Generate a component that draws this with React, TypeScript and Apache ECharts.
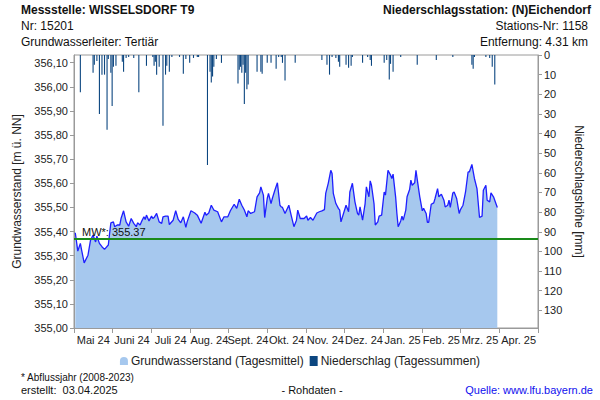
import React, { useEffect, useRef } from "react";
import * as echarts from "echarts";

const monthLabels = ["Mai 24", "Juni 24", "Juli 24", "Aug. 24", "Sept. 24", "Okt. 24", "Nov. 24", "Dez. 24", "Jan. 25", "Feb. 25", "Mrz. 25", "Apr. 25"];

// day index from 1 May 2024
const gwDays = [1, 3, 5, 6, 8, 11, 13, 15, 17, 18, 20, 22, 24, 27, 28, 29, 31, 32, 34, 36, 37, 39, 41, 43, 45, 47, 49, 50, 52, 53, 55, 56, 57, 59, 61, 62, 63, 65, 67, 69, 70, 72, 74, 75, 78, 80, 82, 84, 86, 88, 89, 92, 95, 97, 100, 103, 104, 106, 108, 110, 113, 116, 118, 121, 123, 126, 128, 130, 132, 134, 136, 137, 139, 142, 144, 146, 147, 149, 150, 152, 153, 155, 156, 158, 160, 162, 163, 164, 166, 169, 171, 173, 175, 176, 178, 181, 183, 184, 186, 188, 191, 193, 195, 197, 198, 200, 202, 203, 204, 206, 208, 209, 210, 212, 214, 216, 217, 219, 221, 223, 224, 225, 227, 229, 230, 232, 233, 234, 236, 237, 239, 240, 242, 244, 245, 247, 249, 250, 251, 253, 254, 255, 257, 258, 259, 261, 262, 264, 265, 266, 268, 269, 270, 272, 274, 275, 277, 278, 279, 281, 283, 284, 286, 287, 289, 291, 292, 294, 295, 296, 298, 299, 301, 303, 304, 306, 308, 310, 311, 313, 315, 317, 319, 321, 322, 324, 325, 327, 328, 330, 333];
const gwValues = [355.395, 355.319, 355.351, 355.323, 355.27, 355.302, 355.364, 355.385, 355.357, 355.381, 355.351, 355.337, 355.326, 355.344, 355.392, 355.436, 355.44, 355.42, 355.427, 355.427, 355.454, 355.486, 355.44, 355.422, 355.454, 355.434, 355.42, 355.436, 355.427, 355.44, 355.461, 355.45, 355.468, 355.444, 355.464, 355.454, 355.458, 355.475, 355.44, 355.434, 355.461, 355.464, 355.464, 355.429, 355.447, 355.486, 355.45, 355.436, 355.461, 355.417, 355.44, 355.486, 355.477, 355.468, 355.434, 355.48, 355.468, 355.477, 355.509, 355.489, 355.482, 355.44, 355.461, 355.461, 355.486, 355.513, 355.496, 355.534, 355.509, 355.489, 355.461, 355.486, 355.475, 355.482, 355.544, 355.56, 355.585, 355.551, 355.458, 355.537, 355.558, 355.516, 355.537, 355.571, 355.602, 355.509, 355.502, 355.5, 355.475, 355.509, 355.464, 355.42, 355.447, 355.489, 355.454, 355.454, 355.465, 355.447, 355.458, 355.447, 355.477, 355.482, 355.486, 355.491, 355.558, 355.6, 355.654, 355.641, 355.558, 355.516, 355.496, 355.489, 355.44, 355.475, 355.509, 355.482, 355.564, 355.6, 355.523, 355.475, 355.468, 355.502, 355.447, 355.516, 355.585, 355.544, 355.61, 355.592, 355.516, 355.427, 355.44, 355.464, 355.468, 355.564, 355.551, 355.654, 355.634, 355.62, 355.638, 355.544, 355.475, 355.42, 355.444, 355.464, 355.447, 355.489, 355.544, 355.574, 355.613, 355.592, 355.602, 355.654, 355.616, 355.544, 355.486, 355.496, 355.475, 355.438, 355.438, 355.513, 355.519, 355.537, 355.578, 355.544, 355.555, 355.53, 355.502, 355.509, 355.53, 355.5, 355.56, 355.564, 355.537, 355.475, 355.491, 355.509, 355.564, 355.647, 355.647, 355.678, 355.62, 355.578, 355.458, 355.464, 355.571, 355.592, 355.53, 355.523, 355.56, 355.544, 355.5];

const rainDays = [5, 15, 16, 18, 20, 22, 24, 26, 27, 29, 30, 31, 33, 38, 39, 41, 43, 47, 51, 57, 62, 63, 64, 65, 67, 70, 72, 73, 75, 77, 83, 86, 88, 91, 94, 97, 98, 105, 107, 108, 109, 110, 112, 116, 129, 130, 131, 132, 133, 134, 135, 136, 137, 144, 147, 148, 152, 155, 159, 161, 163, 164, 166, 174, 195, 199, 201, 203, 206, 208, 209, 214, 216, 218, 219, 227, 231, 233, 234, 244, 246, 248, 249, 251, 257, 270, 285, 298, 313, 314, 315, 324, 327, 329, 331];
const rainValues = [19, 9, 5, 3, 30, 10, 10, 38, 2, 9, 26, 6, 5.5, 3.5, 8.5, 1.5, 1, 1.5, 19, 5.5, 1, 5.5, 3.5, 10, 6, 36, 10, 5.5, 8.5, 1, 1, 9.5, 2, 4, 1.5, 1, 1, 56, 8.5, 14, 11, 6, 2, 4, 14.5, 7.5, 6, 9, 5, 25, 9, 17.5, 15, 8.5, 8.5, 9.5, 4, 4, 7, 1, 1, 4, 13, 4, 2.5, 5, 10, 1, 1.5, 3.5, 6, 5, 6.5, 5.5, 1, 4, 1, 2.5, 5.5, 4, 2.5, 12.5, 4.5, 8.5, 1, 5, 2.5, 1, 5, 7, 1, 1, 1.5, 6, 15];

const FONT = '"Liberation Sans", Arial, sans-serif';

export default function App() {
  const ref = useRef<HTMLDivElement>(null);
  useEffect(() => {
    if (!ref.current) return;
    const chart = echarts.init(ref.current, null, { renderer: "svg" });
    const gwName = "Grundwasserstand (Tagesmittel)";
    const rainName = "Niederschlag (Tagessummen)";
    chart.setOption({
      animation: false,
      backgroundColor: "#ffffff",
      textStyle: { fontFamily: FONT },
      grid: { left: 74, right: 62, top: 55, bottom: 72, show: true, borderColor: "#9a9a9a", borderWidth: 1, backgroundColor: "transparent" },
      legend: {
        top: 350,
        left: "center",
        itemGap: 6,
        itemWidth: 8,
        itemHeight: 10,
        textStyle: { fontSize: 12, color: "#222", fontFamily: FONT, padding: [0, 0, 0, -2] },
        data: [
          { name: gwName, icon: "path://M0,10 L0,5 A5,5 0 0 1 10,5 L10,10 Z", itemStyle: { color: "#a6c8ee" } },
          { name: rainName, icon: "rect", itemStyle: { color: "#0c4680" } },
        ],
      },
      xAxis: [
        { type: "value", min: 0, max: 365, show: false, gridIndex: 0 },
        {
          type: "category",
          gridIndex: 0,
          position: "bottom",
          data: monthLabels,
          boundaryGap: true,
          axisLine: { lineStyle: { color: "#9a9a9a" } },
          axisTick: { show: true, length: 5, lineStyle: { color: "#9a9a9a" } },
          axisLabel: { interval: 0, fontSize: 11, color: "#222", margin: 6, fontFamily: FONT },
          splitLine: { show: false },
        },
      ],
      yAxis: [
        {
          type: "value",
          min: 355,
          max: 356.132,
          interval: 0.1,
          position: "left",
          name: "Grundwasserstand [m ü. NN]",
          nameLocation: "middle",
          nameRotate: 90,
          nameGap: 45,
          nameTextStyle: { fontSize: 12, color: "#222", fontFamily: FONT },
          axisLine: { show: true, lineStyle: { color: "#9a9a9a" } },
          axisTick: { show: true, length: 4, lineStyle: { color: "#9a9a9a" } },
          axisLabel: {
            fontSize: 11,
            color: "#222",
            margin: 6,
            showMaxLabel: false,
            fontFamily: FONT,
            formatter: (v: number) => v.toFixed(2).replace(".", ","),
          },
          splitLine: { show: false },
        },
        {
          type: "value",
          min: 0,
          max: 139,
          interval: 10,
          inverse: true,
          position: "right",
          name: "Niederschlagshöhe [mm]",
          nameLocation: "middle",
          nameRotate: -90,
          nameGap: 35,
          nameTextStyle: { fontSize: 12, color: "#222", fontFamily: FONT },
          axisLine: { show: true, lineStyle: { color: "#9a9a9a" } },
          axisTick: { show: true, length: 4, lineStyle: { color: "#9a9a9a" } },
          axisLabel: { fontSize: 11, color: "#222", margin: 6, showMaxLabel: false, fontFamily: FONT },
          splitLine: { show: false },
        },
      ],
      series: [
        {
          type: "line",
          name: gwName,
          xAxisIndex: 0,
          yAxisIndex: 0,
          data: gwDays.map((d, i) => [d, gwValues[i]]),
          showSymbol: false,
          symbol: "none",
          lineStyle: { color: "#1f1fff", width: 1.3 },
          itemStyle: { color: "#a6c8ee" },
          areaStyle: { color: "#a6c8ee", opacity: 1, origin: "start" },
          z: 2,
          markLine: {
            silent: true,
            symbol: "none",
            lineStyle: { color: "#1a8a1a", width: 2, type: "solid" },
            label: {
              show: true,
              position: "insideStartTop",
              formatter: "MW*: 355.37",
              fontSize: 11,
              color: "#111",
              fontFamily: FONT,
              distance: [8, 1],
            },
            data: [{ yAxis: 355.37 }],
          },
        },
        {
          type: "bar",
          name: rainName,
          xAxisIndex: 0,
          yAxisIndex: 1,
          data: rainDays.map((d, i) => [d, rainValues[i]]),
          barWidth: 1.1,
          itemStyle: { color: "#0c4680" },
          z: 3,
        },
      ],
      graphic: [
        { type: "text", x: 21, y: 10, style: { text: "Messstelle: WISSELSDORF T9", font: `bold 12px ${FONT}`, fill: "#111", textVerticalAlign: "middle" } },
        { type: "text", x: 21, y: 26, style: { text: "Nr: 15201", font: `12px ${FONT}`, fill: "#111", textVerticalAlign: "middle" } },
        { type: "text", x: 21, y: 42, style: { text: "Grundwasserleiter: Tertiär", font: `12px ${FONT}`, fill: "#111", textVerticalAlign: "middle" } },
        { type: "text", x: 591, y: 10, style: { text: "Niederschlagsstation: (N)Eichendorf", font: `bold 12px ${FONT}`, fill: "#111", textAlign: "right", textVerticalAlign: "middle" } },
        { type: "text", x: 588, y: 26, style: { text: "Stations-Nr: 1158", font: `12px ${FONT}`, fill: "#111", textAlign: "right", textVerticalAlign: "middle" } },
        { type: "text", x: 588, y: 42, style: { text: "Entfernung: 4.31 km", font: `12px ${FONT}`, fill: "#111", textAlign: "right", textVerticalAlign: "middle" } },
        { type: "text", x: 21, y: 377, style: { text: "* Abflussjahr (2008-2023)", font: `10px ${FONT}`, fill: "#111", textVerticalAlign: "middle" } },
        { type: "text", x: 21, y: 390, style: { text: "erstellt:  03.04.2025", font: `11px ${FONT}`, fill: "#111", textVerticalAlign: "middle" } },
        { type: "text", x: 312, y: 390, style: { text: "- Rohdaten -", font: `11px ${FONT}`, fill: "#111", textAlign: "center", textVerticalAlign: "middle" } },
        { type: "text", x: 593, y: 390, style: { text: "Quelle: www.lfu.bayern.de", font: `11px ${FONT}`, fill: "#1010ee", textAlign: "right", textVerticalAlign: "middle" } },
      ],
    });
    return () => chart.dispose();
  }, []);
  return <div ref={ref} style={{ width: 600, height: 400, position: "absolute", left: 0, top: 0 }} />;
}
